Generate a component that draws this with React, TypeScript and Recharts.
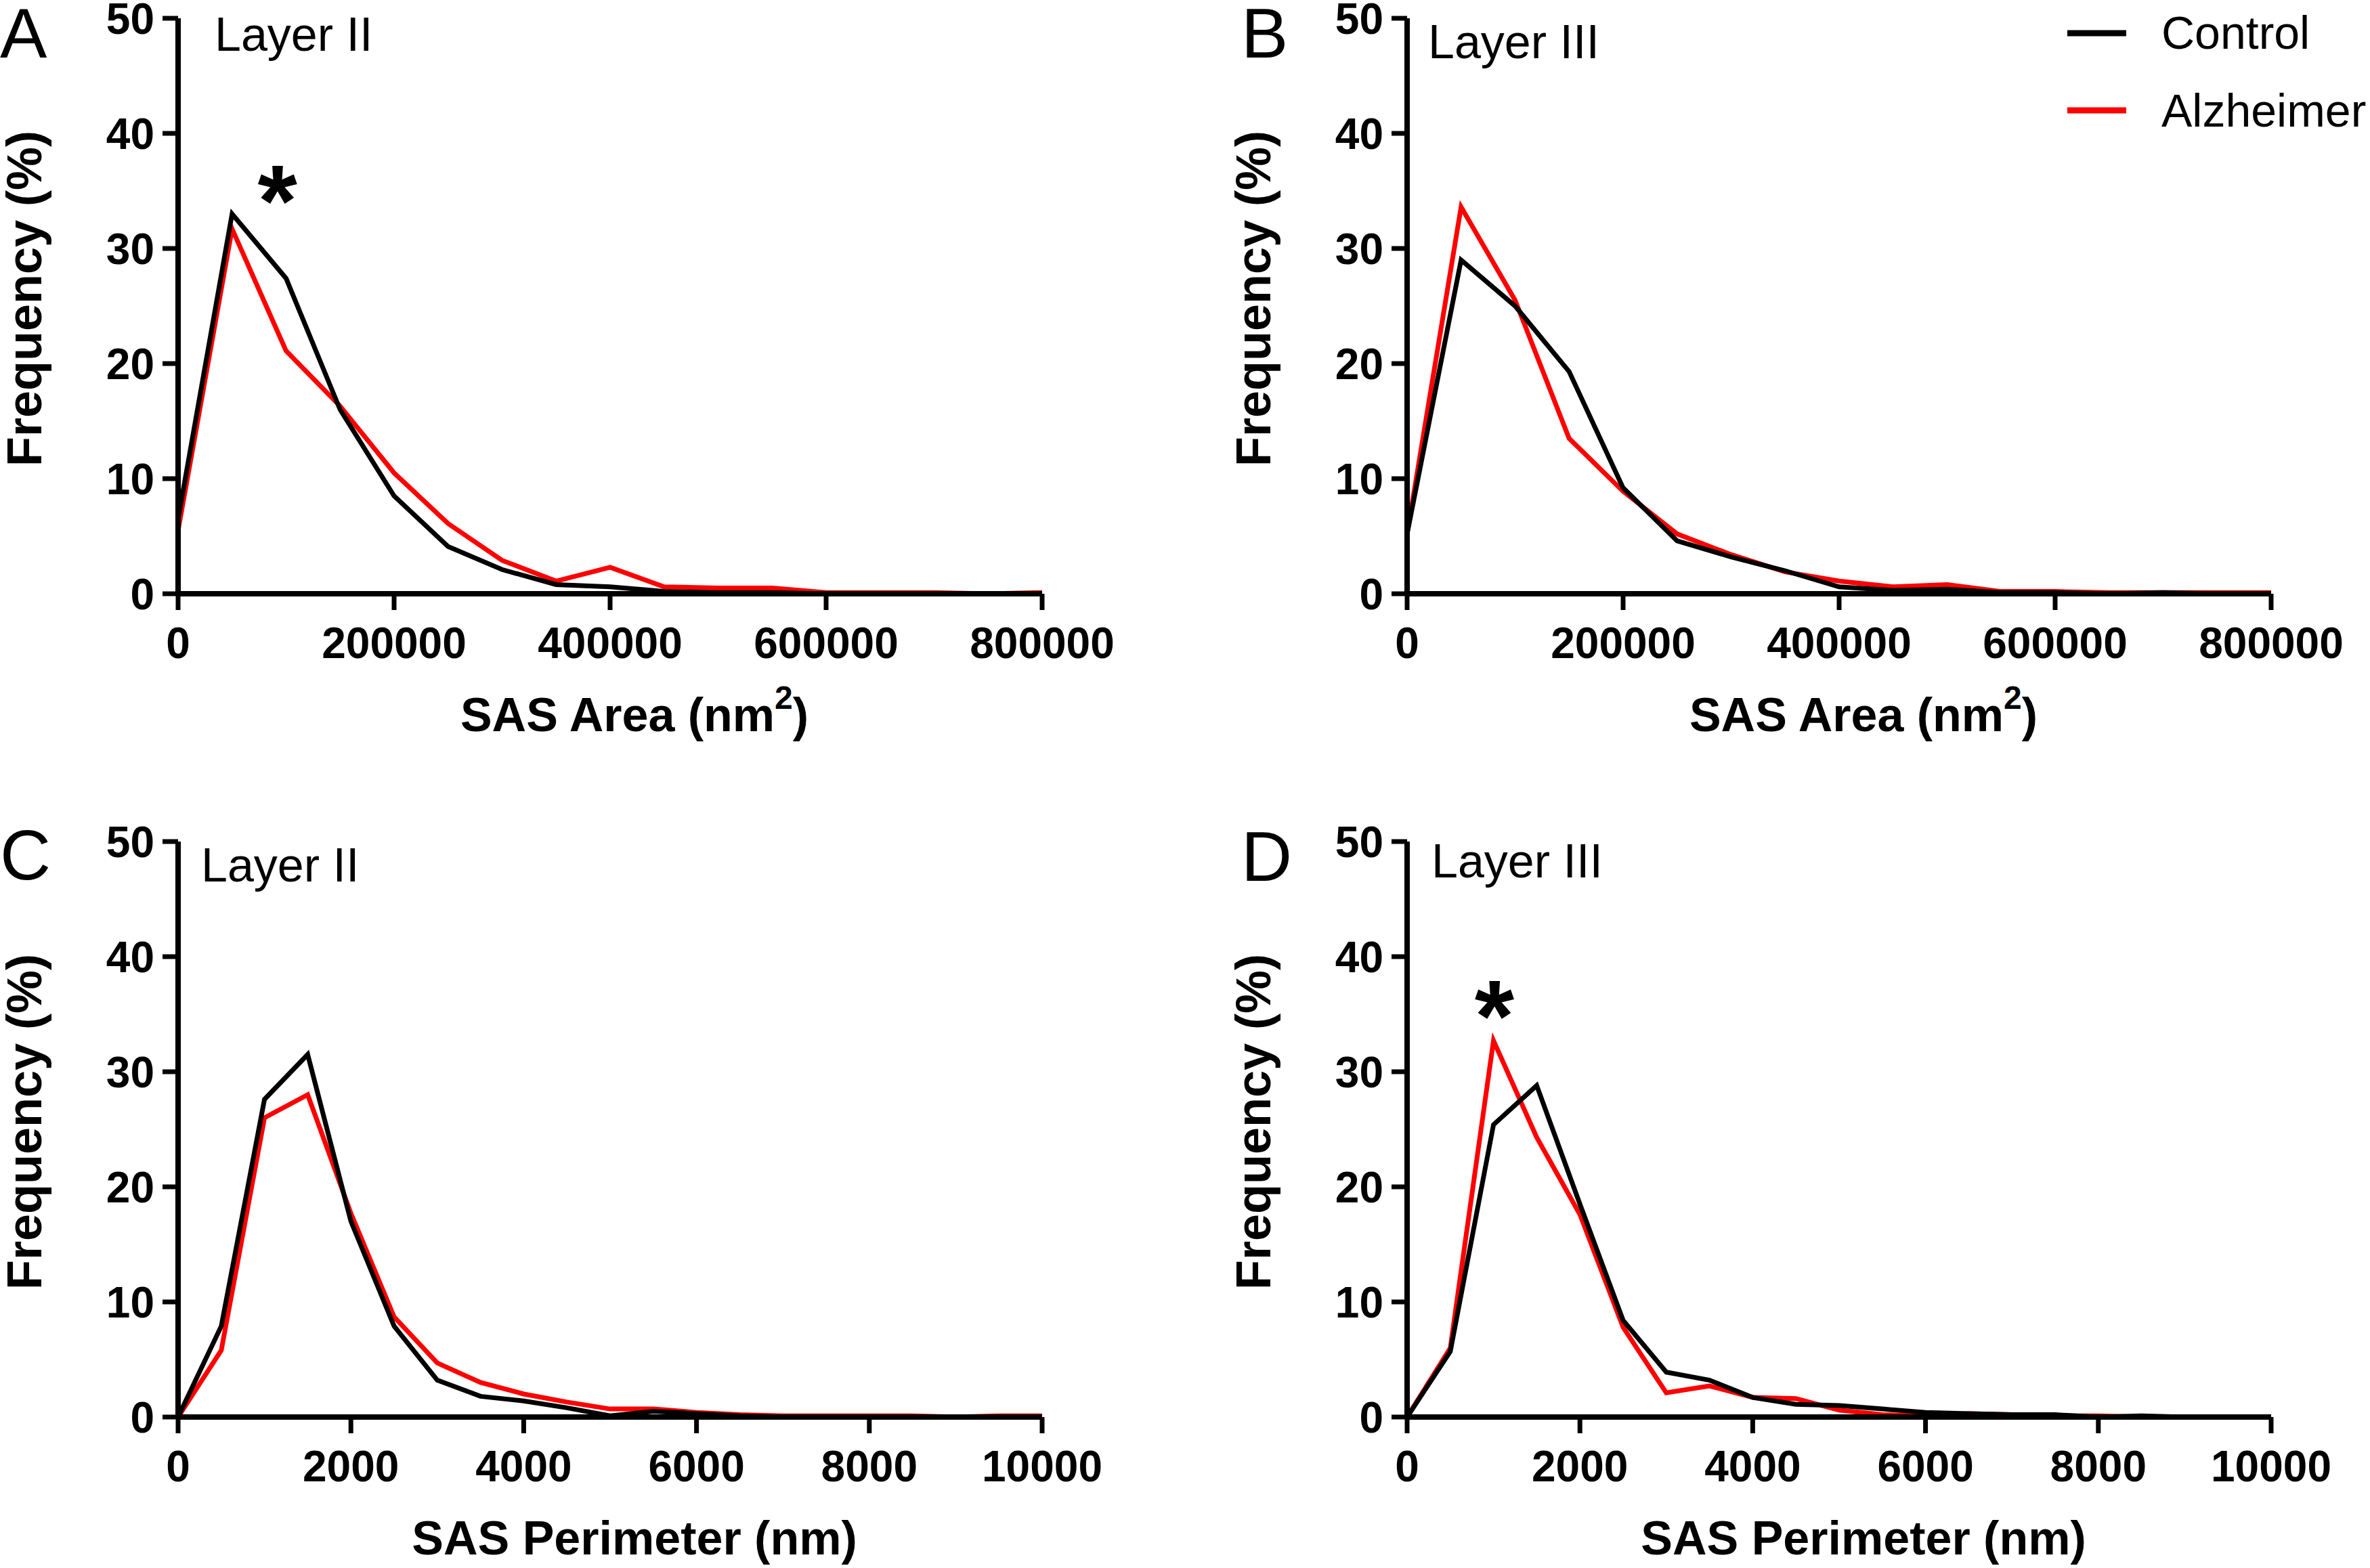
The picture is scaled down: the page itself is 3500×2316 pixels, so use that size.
import React from 'react';
import { LineChart, Line, XAxis, YAxis, Label, ReferenceDot, Legend } from 'recharts';

// ---------- categories (bin centres) ----------
const areaBins = [0, 50000, 100000, 150000, 200000, 250000, 300000, 350000, 400000, 450000, 500000, 550000, 600000, 650000, 700000, 750000, 800000];
const perimBins = [0, 500, 1000, 1500, 2000, 2500, 3000, 3500, 4000, 4500, 5000, 5500, 6000, 6500, 7000, 7500, 8000, 8500, 9000, 9500, 10000];

// ---------- tick labels ----------
const areaTicks = [0, 200000, 400000, 600000, 800000];
const perimTicks = [0, 2000, 4000, 6000, 8000, 10000];
const freqTicks = [0, 10, 20, 30, 40, 50];

// ---------- series values (Frequency %) ----------
const areaL2Control = [6.5, 33.0, 27.4, 16.0, 8.5, 4.1, 2.1, 0.8, 0.6, 0.2, 0.1, 0.1, 0, 0, 0, 0, 0];
const areaL2Alz = [5.5, 31.7, 21.1, 16.3, 10.5, 6.1, 2.9, 1.1, 2.3, 0.6, 0.5, 0.5, 0.1, 0.1, 0.1, 0, 0.1];
const areaL3Control = [5.2, 29.0, 25.0, 19.3, 9.2, 4.6, 3.2, 2.0, 0.6, 0.3, 0.4, 0.1, 0.1, 0, 0.1, 0, 0];
const areaL3Alz = [5.2, 33.6, 25.5, 13.5, 8.9, 5.2, 3.4, 1.9, 1.1, 0.6, 0.8, 0.2, 0.2, 0.1, 0.1, 0.1, 0.1];
const perimL2Control = [0, 7.9, 27.6, 31.5, 17.0, 7.9, 3.2, 1.8, 1.4, 0.8, 0.1, 0.5, 0.3, 0.1, 0, 0, 0, 0, 0, 0, 0];
const perimL2Alz = [0, 5.8, 26.0, 28.0, 17.7, 8.7, 4.7, 3.0, 2.0, 1.3, 0.7, 0.7, 0.4, 0.2, 0.1, 0.1, 0.1, 0.1, 0, 0.1, 0.1];
const perimL3Control = [0, 5.7, 25.4, 28.8, 18.5, 8.4, 3.9, 3.2, 1.7, 1.1, 1.0, 0.7, 0.4, 0.3, 0.2, 0.2, 0, 0.1, 0, 0, 0];
const perimL3Alz = [0, 6.0, 32.7, 24.3, 17.6, 7.8, 2.1, 2.7, 1.7, 1.6, 0.6, 0.2, 0.1, 0.3, 0.2, 0.1, 0.1, 0, 0, 0, 0];

// ---------- annotations (significance markers, in data units) ----------
const starA = { x: 92000, y: 36.2 };
const starD = { x: 1010, y: 36.9 };

const FONT = '"Liberation Sans", Arial, Helvetica, sans-serif';
const CHART_W = 1700;
const CHART_H = 1100;
const MARGIN = { top: 27, right: 161, left: 0, bottom: 0 };
const Y_W = 263;
const X_H = 223;

const build = (bins: number[], control: number[], alz: number[]) =>
  bins.map((x, i) => ({ x, control: control[i], alz: alz[i] }));

const YTitle = (props: any) => {
  const vb = props.viewBox || { x: 0, y: 27, width: 263, height: 850 };
  const x = vb.x + 61;
  const y = vb.y + vb.height / 2 - 11;
  return (
    <text
      x={x}
      y={y}
      transform={`rotate(-90, ${x}, ${y})`}
      textAnchor="middle"
      fontFamily={FONT}
      fontWeight={700}
      fontSize={72}
      fill="#000"
    >
      Frequency (%)
    </text>
  );
};

const makeXTitle = (kind: 'area' | 'perim') => (props: any) => {
  const vb = props.viewBox || { x: 263, y: 877, width: 1276, height: 223 };
  const x = vb.x + vb.width / 2 + 36;
  const y = vb.y + 203;
  if (kind === 'area') {
    return (
      <text x={x} y={y} textAnchor="middle" fontFamily={FONT} fontWeight={700} fontSize={70} fill="#000">
        <tspan>SAS Area (nm</tspan>
        <tspan fontSize={48} dy={-33}>2</tspan>
        <tspan dy={33}>)</tspan>
      </text>
    );
  }
  return (
    <text x={x} y={y} textAnchor="middle" fontFamily={FONT} fontWeight={700} fontSize={70} fill="#000">
      SAS Perimeter (nm)
    </text>
  );
};

const renderStar = (props: any) => {
  const vb = props.viewBox || { x: 0, y: 0, width: 0, height: 0 };
  const cx = vb.x + vb.width / 2;
  const cy = vb.y + vb.height / 2;
  return (
    <text x={cx} y={cy} dy="0.58em" textAnchor="middle" fontFamily={FONT} fontWeight={700} fontSize={150} fill="#000">
      *
    </text>
  );
};

const renderLegend = (props: any) => {
  const payload = (props.payload || []).slice();
  const order = ['Control', 'Alzheimer'];
  payload.sort((a: any, b: any) => order.indexOf(a.value) - order.indexOf(b.value));
  return (
    <svg width={460} height={220} style={{ display: 'block', overflow: 'visible' }}>
      {payload.map((p: any, i: number) => (
        <g key={p.value}>
          <line x1={13} x2={100} y1={49 + i * 114} y2={49 + i * 114} stroke={p.color} strokeWidth={9} />
          <text x={152} y={72 + i * 115} fontFamily={FONT} fontSize={68} fill="#000">
            {p.value}
          </text>
        </g>
      ))}
    </svg>
  );
};

type PanelProps = {
  left: number;
  top: number;
  letter: string;
  letterPos: [number, number];
  layer: string;
  layerPos: [number, number];
  bins: number[];
  control: number[];
  alz: number[];
  xDomain: [number, number];
  xTicks: number[];
  kind: 'area' | 'perim';
  star?: { x: number; y: number };
  legend?: boolean;
};

const Panel = (p: PanelProps) => {
  const data = build(p.bins, p.control, p.alz);
  const tickStyle = { fontSize: 64, fontWeight: 700, fill: '#000', fontFamily: FONT };
  return (
    <div style={{ position: 'absolute', left: p.left, top: p.top, width: CHART_W, height: CHART_H }}>
      <LineChart width={CHART_W} height={CHART_H} data={data} margin={MARGIN} style={{ overflow: 'visible' }}>
        <XAxis
          type="number"
          dataKey="x"
          domain={p.xDomain}
          ticks={p.xTicks}
          interval={0}
          height={X_H}
          tick={tickStyle}
          tickSize={24}
          tickMargin={26}
          axisLine={{ stroke: '#000', strokeWidth: 8 }}
          tickLine={{ stroke: '#000', strokeWidth: 7 }}
          allowDataOverflow
        >
          <Label content={makeXTitle(p.kind)} />
        </XAxis>
        <YAxis
          type="number"
          domain={[0, 50]}
          ticks={freqTicks}
          interval={0}
          width={Y_W}
          tick={tickStyle}
          tickSize={23}
          tickMargin={12}
          axisLine={{ stroke: '#000', strokeWidth: 8 }}
          tickLine={{ stroke: '#000', strokeWidth: 7 }}
          allowDataOverflow
        >
          <Label content={YTitle} />
        </YAxis>
        <Line
          type="linear"
          dataKey="alz"
          name="Alzheimer"
          stroke="#ff0000"
          strokeWidth={7}
          dot={false}
          activeDot={false}
          isAnimationActive={false}
        />
        <Line
          type="linear"
          dataKey="control"
          name="Control"
          stroke="#000000"
          strokeWidth={7}
          dot={false}
          activeDot={false}
          isAnimationActive={false}
        />
        {p.star && (
          <ReferenceDot x={p.star.x} y={p.star.y} r={1} fill="none" stroke="none" label={renderStar} />
        )}
        {p.legend && (
          <Legend
            layout="vertical"
            align="center"
            verticalAlign="middle"
            content={renderLegend}
            wrapperStyle={{ position: 'absolute', left: 1225, top: 0, width: 460, height: 220 }}
          />
        )}
      </LineChart>
      <svg
        width={CHART_W}
        height={CHART_H}
        style={{ position: 'absolute', left: 0, top: 0, pointerEvents: 'none', overflow: 'visible' }}
      >
        <text x={p.letterPos[0]} y={p.letterPos[1]} fontFamily={FONT} fontSize={104} fill="#000">
          {p.letter}
        </text>
        <text x={p.layerPos[0]} y={p.layerPos[1]} fontFamily={FONT} fontSize={70} fill="#000">
          {p.layer}
        </text>
      </svg>
    </div>
  );
};

export default function App() {
  return (
    <div style={{ position: 'absolute', left: 0, top: 0, width: 3500, height: 2316, background: '#fff', overflow: 'hidden' }}>
      <Panel
        left={0}
        top={0}
        letter="A"
        letterPos={[0, 85]}
        layer="Layer II"
        layerPos={[317, 75]}
        bins={areaBins}
        control={areaL2Control}
        alz={areaL2Alz}
        xDomain={[0, 800000]}
        xTicks={areaTicks}
        kind="area"
        star={starA}
      />
      <Panel
        left={1815}
        top={0}
        letter="B"
        letterPos={[18, 85]}
        layer="Layer III"
        layerPos={[294, 86]}
        bins={areaBins}
        control={areaL3Control}
        alz={areaL3Alz}
        xDomain={[0, 800000]}
        xTicks={areaTicks}
        kind="area"
        legend
      />
      <Panel
        left={0}
        top={1216}
        letter="C"
        letterPos={[0, 83]}
        layer="Layer II"
        layerPos={[297, 86]}
        bins={perimBins}
        control={perimL2Control}
        alz={perimL2Alz}
        xDomain={[0, 10000]}
        xTicks={perimTicks}
        kind="perim"
      />
      <Panel
        left={1815}
        top={1216}
        letter="D"
        letterPos={[18, 85]}
        layer="Layer III"
        layerPos={[299, 80]}
        bins={perimBins}
        control={perimL3Control}
        alz={perimL3Alz}
        xDomain={[0, 10000]}
        xTicks={perimTicks}
        kind="perim"
        star={starD}
      />
    </div>
  );
}
